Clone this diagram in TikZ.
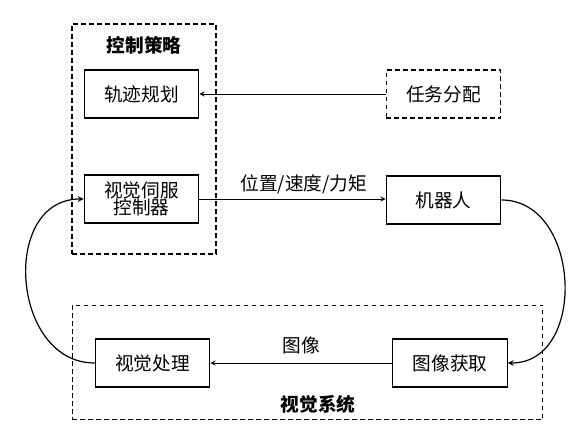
\documentclass[tikz,border=0pt]{standalone}
\usepackage{fontspec}
\setmainfont{Noto Sans CJK SC}
\usetikzlibrary{arrows}

\begin{document}
\begin{tikzpicture}[x=0.75pt, y=-0.75pt]
    \tikzset{block/.style={draw, line width=0.9pt, minimum width=86pt, minimum height=36pt, align=center, inner sep=1pt, font=\fontsize{14}{16}\selectfont},
             group/.style={draw, line width=0.9pt, dash pattern=on 3.5pt off 2.5pt},
             flow lines/.style={line width=0.7pt, -stealth},
             title/.style={font=\fontsize{14}{16}\selectfont\bfseries}}
    \useasboundingbox (0, 0) rectangle (586, 445);
    % \draw (0, 0) grid (586, 445);
    \node [group, minimum width=108pt, minimum height=172.5pt] (strategy) at (144, 139) {};
    \node [group, minimum width=353pt, minimum height=86pt] (vision) at (307.5, 362.5) {};
    \node [title] (strategytitle) at (144, 45) {控制策略};
    \node [title] (visiontitle) at (318, 404) {视觉系统};
    \node [block] (plan) at (141.5, 94) {轨迹规划};
    \node [block, inner sep=0pt] (servo) at (141.5, 199) {视觉伺服\\[-3pt]控制器};
    \node [block, group] (task) at (443.5, 94) {任务分配};
    \node [block] (robot) at (443.5, 200) {机器人};
    \node [block] (proc) at (152.5, 363) {视觉处理};
    \node [block] (acq) at (450, 363) {图像获取};
    \draw [flow lines] (task) to (plan);
    \draw [flow lines] (servo.east) to node[above, font=\fontsize{14}{16}\selectfont, pos=0.56] {位置/速度/力矩} (robot.west |- servo.east);
    \draw [flow lines] (acq) to node[above=3pt, font=\fontsize{14}{16}\selectfont] {图像} (proc);
    \draw [flow lines, line width=0.9pt] (robot.east) to [out=0, in=0, looseness=1.25] (acq.east);
    \draw [flow lines, line width=0.9pt] (proc.west) to [out=180, in=180, looseness=1.3] (servo.west);
\end{tikzpicture}
\end{document}
